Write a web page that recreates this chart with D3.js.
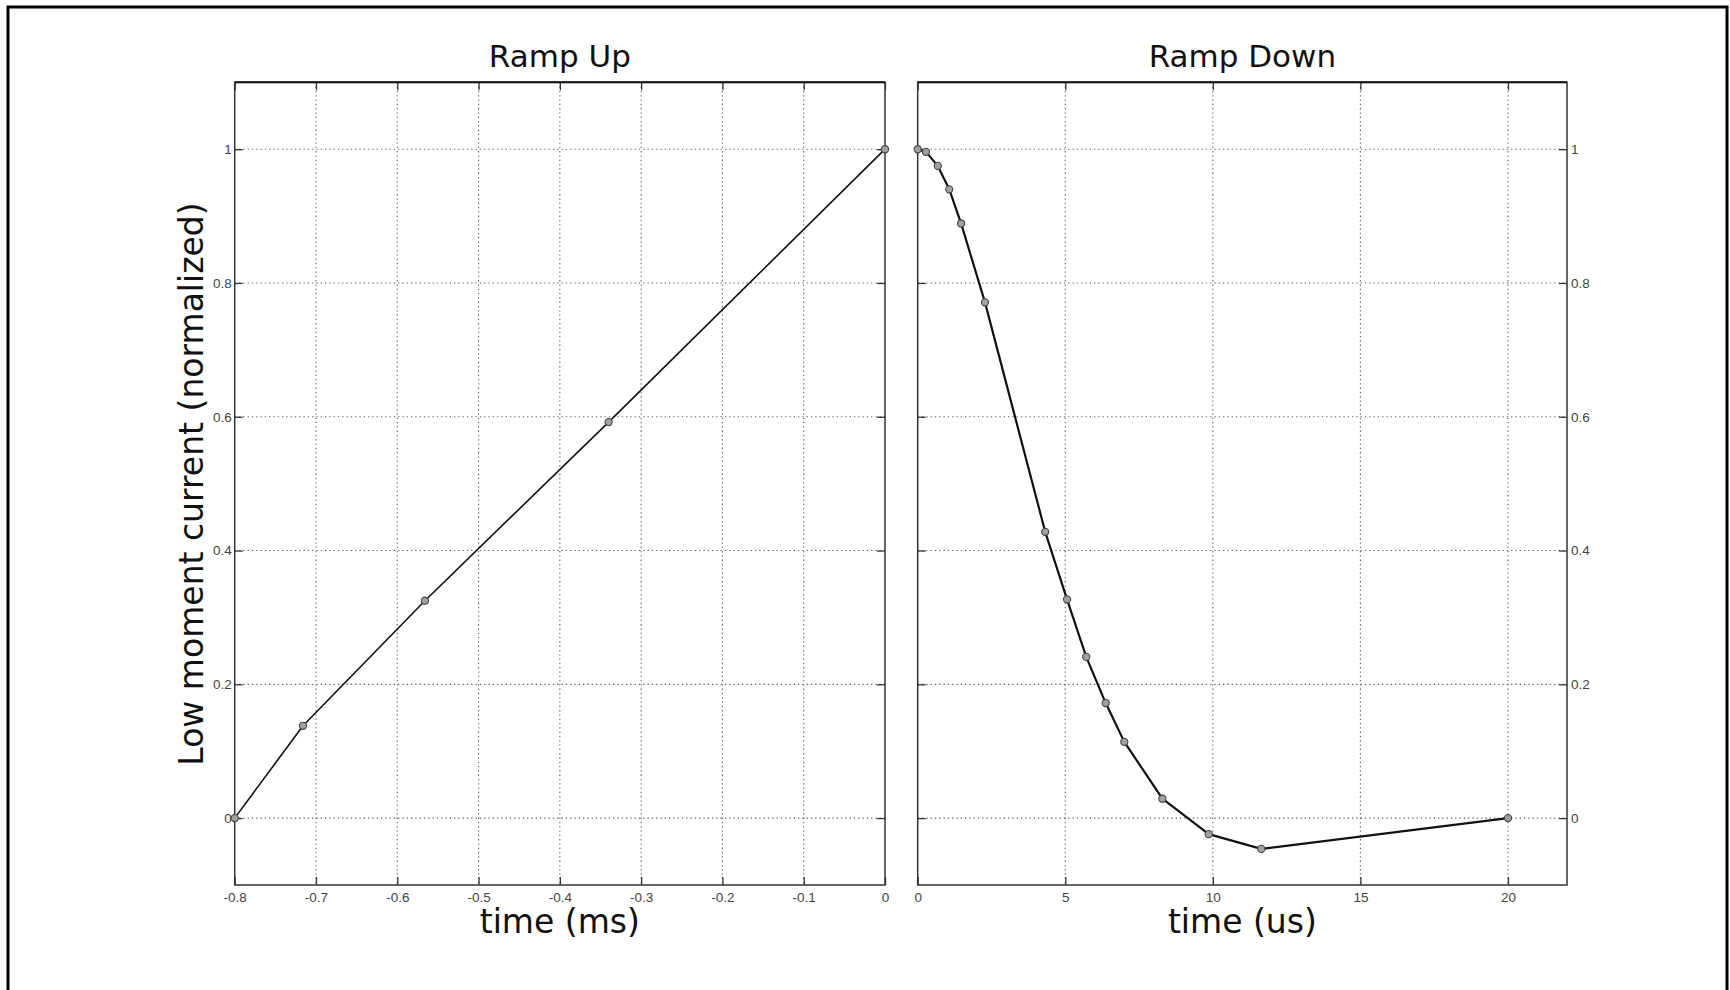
<!DOCTYPE html>
<html>
<head>
<meta charset="utf-8">
<script src="https://cdn.jsdelivr.net/npm/d3@7"></script>
<style>
  html, body { margin: 0; padding: 0; background: #fff; }
  svg { display: block; }
  .tick text { font-family: "Liberation Sans", Arial, sans-serif; font-size: 13.5px; fill: #444; }
  .title, .axis-title { font-family: "DejaVu Sans", Verdana, sans-serif; fill: #111; }
</style>
</head>
<body>
<svg id="chart" width="1730" height="990"></svg>
<script>
// Ramp-up segment: time in ms, current normalized
const rampUpTime    = [-0.8, -0.716, -0.566, -0.340, 0];
const rampUpCurrent = [0, 0.138, 0.325, 0.592, 1];

// Ramp-down segment: time in microseconds, current normalized
const rampDownTime    = [0, 0.28, 0.68, 1.07, 1.47, 2.28, 4.32, 5.06, 5.71, 6.37, 7.0, 8.29, 9.86, 11.64, 20];
const rampDownCurrent = [1, 0.996, 0.975, 0.940, 0.889, 0.771, 0.428, 0.327, 0.241, 0.172, 0.114, 0.029, -0.024, -0.046, 0];

// Tick values
const upXTicks   = [-0.8, -0.7, -0.6, -0.5, -0.4, -0.3, -0.2, -0.1, 0];
const downXTicks = [0, 5, 10, 15, 20];
const yTicks     = [0, 0.2, 0.4, 0.6, 0.8, 1];
const yTickLabels = ["0", "0.2", "0.4", "0.6", "0.8", "1"];

const svg = d3.select("#chart");

// Outer frame
svg.append("rect")
  .attr("x", 8).attr("y", 7)
  .attr("width", 1719).attr("height", 1000)
  .attr("fill", "none").attr("stroke", "#000").attr("stroke-width", 3);

const plotTop = 82.3, plotBottom = 885;
const yDomain = [-0.1, 1.1];
const fmtX = d => (d === 0 ? "0" : String(+d.toFixed(1)));
const fmtY = d => yTickLabels[yTicks.indexOf(d)];

function panel(opts) {
  const x = d3.scaleLinear().domain(opts.xDomain).range([opts.left, opts.right]);
  const y = d3.scaleLinear().domain(yDomain).range([plotBottom, plotTop]);
  const g = svg.append("g");

  // dotted grid
  const grid = g.append("g")
    .attr("stroke", "#444").attr("stroke-width", 1.1)
    .attr("stroke-dasharray", "1.3,3").attr("opacity", 0.85);
  grid.selectAll("line.v").data(opts.xTicks.filter(d => x(d) > opts.left + 1 && x(d) < opts.right - 1))
    .join("line").attr("class", "v")
    .attr("x1", d => x(d)).attr("x2", d => x(d))
    .attr("y1", plotTop).attr("y2", plotBottom);
  grid.selectAll("line.h").data(yTicks)
    .join("line").attr("class", "h")
    .attr("x1", opts.left).attr("x2", opts.right)
    .attr("y1", d => y(d)).attr("y2", d => y(d));

  const styleAxis = sel => {
    sel.select(".domain").remove();
    sel.selectAll(".tick line").attr("stroke", "#333").attr("stroke-width", 1.3);
  };

  // bottom axis with labels
  g.append("g").attr("transform", `translate(0,${plotBottom})`)
    .call(d3.axisBottom(x).tickValues(opts.xTicks).tickFormat(fmtX).tickSize(-8).tickPadding(7))
    .call(styleAxis);
  // top axis (ticks only)
  g.append("g").attr("transform", `translate(0,${plotTop})`)
    .call(d3.axisTop(x).tickValues(opts.xTicks).tickFormat("").tickSize(-8))
    .call(styleAxis);
  // left axis
  g.append("g").attr("transform", `translate(${opts.left},0)`)
    .call(d3.axisLeft(y).tickValues(yTicks).tickFormat(opts.labelSide === "left" ? fmtY : "").tickSize(-8).tickPadding(3))
    .call(styleAxis);
  // right axis
  g.append("g").attr("transform", `translate(${opts.right},0)`)
    .call(d3.axisRight(y).tickValues(yTicks).tickFormat(opts.labelSide === "right" ? fmtY : "").tickSize(-8).tickPadding(4))
    .call(styleAxis);

  // frame
  g.append("rect")
    .attr("x", opts.left).attr("y", plotTop)
    .attr("width", opts.right - opts.left).attr("height", plotBottom - plotTop)
    .attr("fill", "none").attr("stroke", "#333").attr("stroke-width", 1.5);
  g.append("line")
    .attr("x1", opts.left).attr("x2", opts.right).attr("y1", plotTop).attr("y2", plotTop)
    .attr("stroke", "#111").attr("stroke-width", 2);

  // data
  const pts = opts.xs.map((v, i) => [v, opts.ys[i]]);
  g.append("path")
    .datum(pts)
    .attr("fill", "none").attr("stroke", "#111")
    .attr("stroke-width", opts.lineWidth).attr("stroke-linejoin", "round")
    .attr("d", d3.line().x(d => x(d[0])).y(d => y(d[1])));
  g.selectAll("circle").data(pts).join("circle")
    .attr("cx", d => x(d[0])).attr("cy", d => y(d[1]))
    .attr("r", 3.6)
    .attr("fill", "#a0a0a0").attr("stroke", "#444").attr("stroke-width", 1.1);

  // titles
  const cx = (opts.left + opts.right) / 2;
  g.append("text").attr("class", "title")
    .attr("x", cx).attr("y", 67).attr("text-anchor", "middle")
    .attr("font-size", 31).text(opts.title);
  g.append("text").attr("class", "axis-title")
    .attr("x", cx).attr("y", 933).attr("text-anchor", "middle")
    .attr("font-size", 33).text(opts.xLabel);
}

panel({
  xDomain: [-0.8, 0], left: 234.7, right: 885,
  xTicks: upXTicks, xs: rampUpTime, ys: rampUpCurrent,
  title: "Ramp Up", xLabel: "time (ms)", labelSide: "left", lineWidth: 1.6
});
panel({
  xDomain: [0, 22], left: 917.7, right: 1567,
  xTicks: downXTicks, xs: rampDownTime, ys: rampDownCurrent,
  title: "Ramp Down", xLabel: "time (us)", labelSide: "right", lineWidth: 2.2
});

// shared y-axis title
svg.append("text").attr("class", "axis-title")
  .attr("transform", "translate(203,484) rotate(-90)")
  .attr("text-anchor", "middle")
  .attr("font-size", 33)
  .text("Low moment current (normalized)");
</script>
</body>
</html>
